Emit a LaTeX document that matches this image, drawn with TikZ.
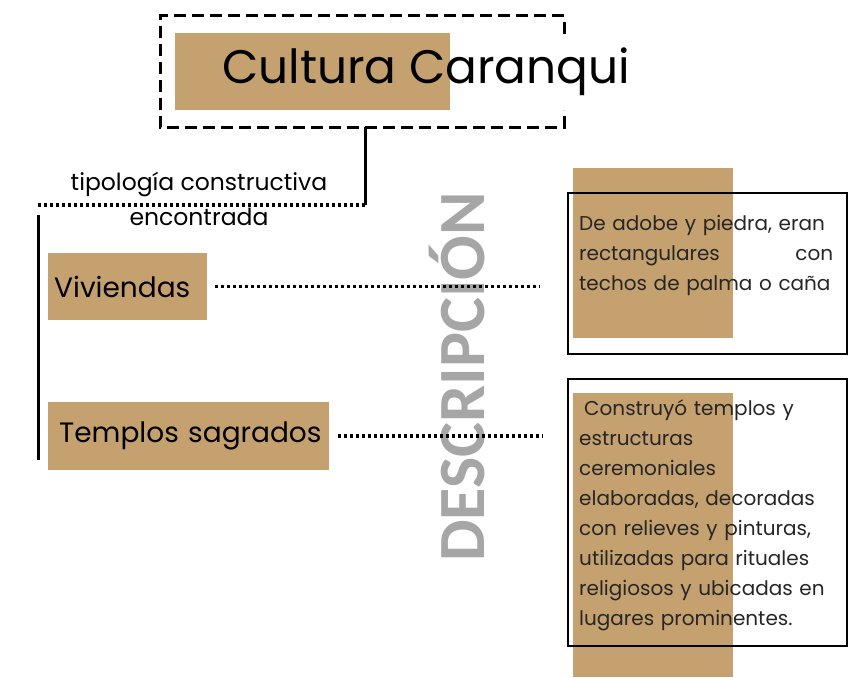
\documentclass[tikz,border=0pt]{standalone}
\usepackage{fontspec}
\setmainfont{Poppins}
\newfontfamily\motfont{Carlito}
\definecolor{ocre}{RGB}{196,161,110}
\definecolor{grismot}{RGB}{166,166,166}

\begin{document}
\begin{tikzpicture}  % ------ Cultura Caranqui -----------------------------
      [x=1pt,y=-1pt,
       fond/.style={fill=ocre, draw=none},
       pointille/.style={line width=3.5pt, dash pattern=on 3pt off 3pt},
       trait/.style={line width=3pt},
       classe/.style={fill=ocre, anchor=north west, align=left, inner ysep=0pt,
                      font=\fontsize{28}{32}\selectfont},
       cadre/.style={draw, line width=1.5pt, anchor=north west, inner sep=0pt},
       texte/.style={anchor=north west, text width=254pt, align=left, inner sep=0pt,
                     text=black!85, font=\fontsize{20}{30}\selectfont}]
    \useasboundingbox (0,0) rectangle (858,677);

    \coordinate (C1) at (365,127);
    \coordinate (C2) at (365,205);
    \coordinate (C3) at (38,205);
    \coordinate (C4) at (38,215);
    \coordinate (C5) at (38,460);

%   le titre
    \draw [trait, dash pattern=on 12pt off 6pt] (564,34) -- (564,16) -- (160,16)
          -- (160,127) -- (564,127) -- (564,110);
    \fill [ocre] (175,33) rectangle (450,110);
    \node [font=\fontsize{47}{50}\selectfont, inner sep=0pt] (titre) at (426,72) {Cultura Caranqui};

    \draw [trait] (C1) -- (C2);
    \draw [pointille] (C2) -- (C3);
    \node [font=\fontsize{23.5}{26}\selectfont] (tipo) at (199,184) {tipología constructiva};
    \node [font=\fontsize{23.5}{26}\selectfont] (enco) at (199,217) {encontrada};
    \draw [trait] (C4) -- (C5);

%   mot vertical
    \node [rotate=90, text=grismot, font=\motfont\bfseries\fontsize{66}{70}\selectfont,
           inner sep=0pt] (desc) at (457,377) {DESCRIPCIÓN};

%   les classes
    \node [classe, minimum width=159pt, minimum height=67pt, text width=147pt,
           inner xsep=6pt] (viv) at (48,253) {Viviendas};
    \node [classe, minimum width=281pt, minimum height=68pt, text width=259pt,
           inner xsep=11pt] (tem) at (48,402) {\mbox{Templos sagrados}};

%   les descriptions
    \fill [ocre] (573,168) rectangle (733,338);
    \node [cadre, minimum width=279pt, minimum height=161pt] (d1) at (567,192) {};
    \node [texte] (t1) at (579,215) {De adobe y piedra, eran\\
          rectangulares\hfill con\\
          techos de palma o caña};

    \fill [ocre] (573,393) rectangle (733,677);
    \node [cadre, minimum width=279pt, minimum height=267pt] (d2) at (567,378) {};
    \node [texte] (t2) at (579,400) {\hspace*{5pt}Construyó templos y\\
          estructuras\\
          ceremoniales\\
          elaboradas, decoradas\\
          con relieves y pinturas,\\
          utilizadas para rituales\\
          religiosos y ubicadas en\\
          lugares prominentes.};

    \draw [pointille] ([xshift=8pt]viv.east) -- ([xshift=-27pt]viv.east -| d1.west);
    \draw [pointille] ([xshift=9pt]tem.east) -- ([xshift=-24pt]tem.east -| d2.west);

\end{tikzpicture}
\end{document}
